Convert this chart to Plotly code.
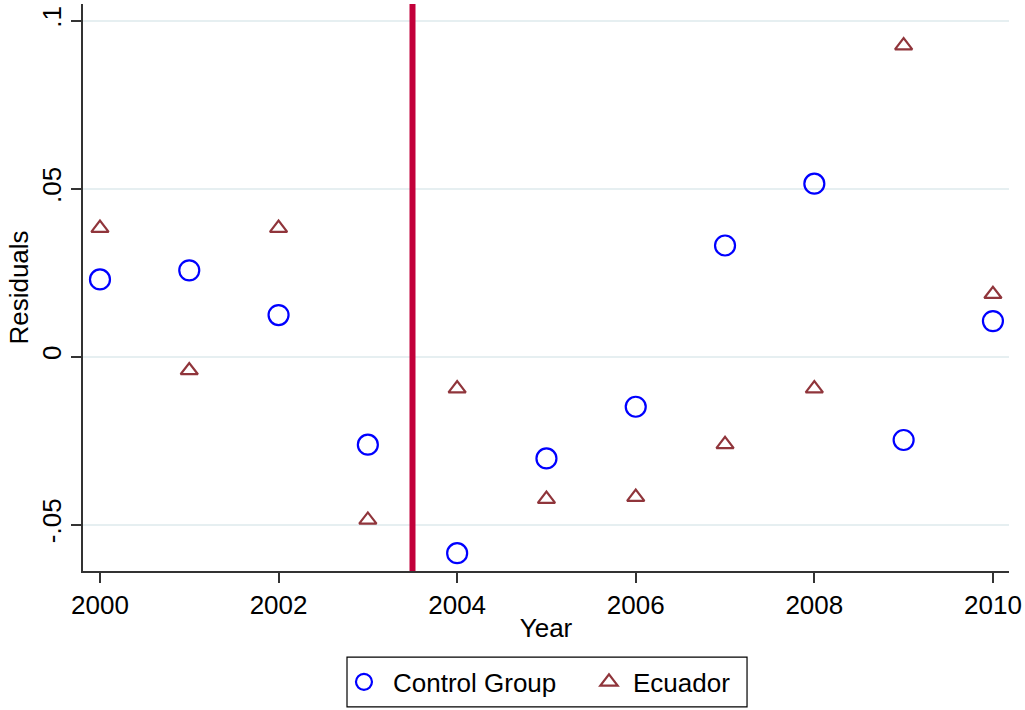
import plotly.graph_objects as go

# Residuals by year for the two groups
years = [2000, 2001, 2002, 2003, 2004, 2005, 2006, 2007, 2008, 2009, 2010]
control_group = [0.0230, 0.0257, 0.0124, -0.0262, -0.0585, -0.0303,
                 -0.0149, 0.0331, 0.0515, -0.0248, 0.0106]
ecuador = [0.0383, -0.0041, 0.0383, -0.0486, -0.0095, -0.0424,
           -0.0418, -0.0261, -0.0095, 0.0926, 0.0186]

y_tick_vals = [-0.05, 0, 0.05, 0.1]
y_tick_text = ["-.05", "0", ".05", ".1"]
x_tick_vals = [2000, 2002, 2004, 2006, 2008, 2010]
break_year = 2003.5

FONT = "Liberation Sans, Arial, sans-serif"
FS = 26

fig = go.Figure()
fig.add_trace(go.Scatter(
    x=years, y=control_group, mode="markers", name="Control Group",
    legend="legend",
    marker=dict(symbol="circle-open", size=20, color="#0000FF",
                line=dict(width=2.2, color="#0000FF")),
))
fig.add_trace(go.Scatter(
    x=years, y=ecuador, mode="markers", name="Ecuador",
    legend="legend2",
    marker=dict(symbol="triangle-up-open", size=15, color="#90353B",
                line=dict(width=2.2, color="#90353B")),
))

# treatment break
fig.add_shape(type="line", xref="x", yref="paper",
              x0=break_year, x1=break_year, y0=0, y1=1,
              line=dict(color="#C2003A", width=6), layer="above")

# frame around the two legend entries
fig.add_shape(type="rect", xref="paper", yref="paper",
              x0=0.2851, x1=0.7171, y0=-0.2397, y1=-0.1518,
              line=dict(color="black", width=1.2), fillcolor="rgba(0,0,0,0)")

legend_common = dict(orientation="h", yanchor="middle", y=-0.1957,
                     xanchor="left", bgcolor="rgba(0,0,0,0)", borderwidth=0,
                     font=dict(family=FONT, size=FS, color="black"))

fig.update_layout(
    width=1025, height=710,
    margin=dict(l=83, r=16, t=4, b=136),
    paper_bgcolor="white", plot_bgcolor="white",
    font=dict(family=FONT, size=FS, color="black"),
    showlegend=True,
    legend=dict(x=0.2721, itemwidth=48, **legend_common),
    legend2=dict(x=0.5421, itemwidth=38, **legend_common),
    xaxis=dict(range=[1999.81, 2010.18], tickvals=x_tick_vals,
               showgrid=False, zeroline=False,
               showline=True, linecolor="#333333", linewidth=2,
               ticks="outside", ticklen=10, tickwidth=1.5, tickcolor="#333333",
               tickfont=dict(size=FS),
               title=dict(text="Year", font=dict(size=FS), standoff=0)),
    yaxis=dict(range=[-0.0638, 0.105], tickvals=y_tick_vals, ticktext=y_tick_text,
               tickangle=-90,
               showgrid=True, gridcolor="#E6EFF1", gridwidth=1.5, zeroline=False,
               showline=True, linecolor="#333333", linewidth=2,
               ticks="outside", ticklen=10, tickwidth=1.5, tickcolor="#333333",
               tickfont=dict(size=FS),
               title=dict(text="Residuals", font=dict(size=FS), standoff=0)),
)

fig.write_html("out.html")
